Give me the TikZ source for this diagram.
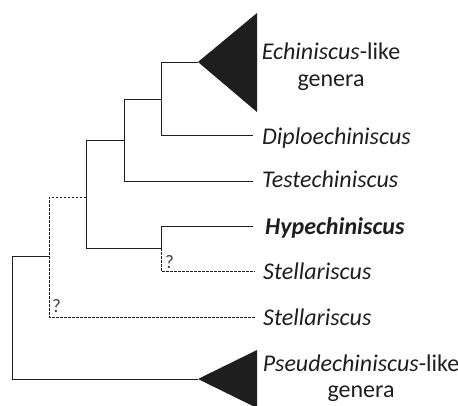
\documentclass[tikz,border=0pt]{standalone}
\usepackage{fontspec}
\setmainfont{Carlito}
\definecolor{ink}{HTML}{1E1E1E}
\begin{document}
\begin{tikzpicture}[x=1pt,y=-1pt,
  br/.style={draw=ink, line width=1pt},
  dsh/.style={br, dash pattern=on 2.5pt off 1.5pt},
  clade/.style={fill=ink, draw=none},
  lab/.style={anchor=base west, inner sep=0pt, text=ink, font=\fontsize{24}{27}\selectfont\itshape},
  grp/.style={align=center, inner sep=0pt, text=ink, font=\fontsize{24}{27}\selectfont},
  qm/.style={anchor=base west, inner sep=0pt, text=ink!85, font=\fontsize{19}{20}\selectfont}]
\useasboundingbox (0,0) rectangle (458,405);
% internal nodes
\coordinate (r) at (12,256);
\coordinate (a) at (49,256);
\coordinate (b) at (86,197);
\coordinate (c) at (86,140);
\coordinate (d) at (124,99);
\coordinate (e) at (161,62);
\coordinate (h) at (161,248);
% tips
\coordinate (ech) at (198,62);
\coordinate (echt) at (257,13);
\coordinate (echb) at (257,112);
\coordinate (pse) at (198,379);
\coordinate (pset) at (257,350);
\coordinate (pseb) at (257,408);
\coordinate (dip) at (253,135);
\coordinate (tes) at (253,181);
\coordinate (hyp) at (253,226);
\coordinate (st1) at (255,271);
\coordinate (st2) at (255,317);
% clades
\fill[clade] (ech) -- (echt) -- (echb) -- cycle;
\fill[clade] (pse) -- (pset) -- (pseb) -- cycle;
% solid branches
\draw[br] (ech) -- (e) |- (dip);
\draw[br] (e |- d) -- (d) |- (tes);
\draw[br] (d |- c) -- (c) |- (h) -- (h |- hyp) -- (hyp);
\draw[br] (a) -- (r) |- (pse);
% dashed branches
\draw[dsh] (h) |- (st1);
\draw[dsh] (b) -- (a |- b) |- (st2);
% labels
\node[grp] (lech) at (331,67) {\textit{Echiniscus}-like\\genera};
\node[lab] (ldip) at (262,144) {Diploechiniscus};
\node[lab] (ltes) at (262,187) {Testechiniscus};
\node[lab, font=\fontsize{24}{27}\selectfont\bfseries\itshape] (lhyp) at (265,234) {Hypechiniscus};
\node[lab] (lst1) at (263,279) {Stellariscus};
\node[lab] (lst2) at (263,325) {Stellariscus};
\node[grp, font=\fontsize{24}{26}\selectfont] (lpse) at (361,378) {\textit{Pseudechiniscus}-like\\genera};
\node[qm] (q1) at (165,268) {?};
\node[qm] (q2) at (52,312) {?};
\end{tikzpicture}
\end{document}
